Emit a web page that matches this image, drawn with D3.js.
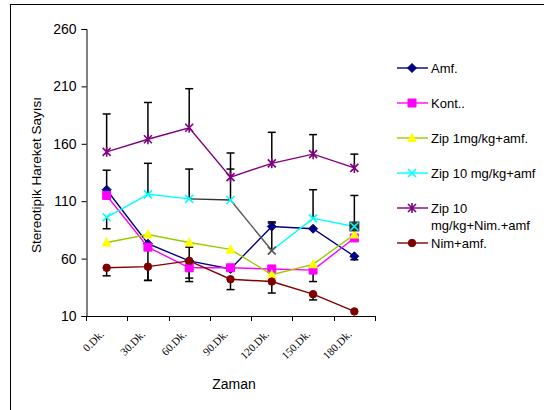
<!DOCTYPE html>
<html>
<head>
<meta charset="utf-8">
<script src="https://cdn.jsdelivr.net/npm/d3@7"></script>
<style>
  body { margin: 0; background: #fff; }
  text { font-family: "Liberation Sans", Arial, sans-serif; }
</style>
</head>
<body>
<div id="plot"></div>
<script>
// categories and tick labels
let cats = ["0.Dk.", "30.Dk.", "60.Dk.", "90.Dk.", "120.Dk.", "150.Dk.", "180.Dk."];
let yTicks = [10, 60, 110, 160, 210, 260];

// series values
let amf    = [120, 73, 58, 51, 88, 86, 62];
let kont   = [115, 70, 52, 52, 51, 50, 78];
let zip1   = [74, 81, 74, 68, 46, 55, 81];
let zip10  = [96, 116, 112, 111, 67, 95, 88];
let zipNim = [153, 164, 174, 131, 143, 151, 139];
let nim    = [52, 53, 58, 42, 40, 29, 14];

// error bars (up / down lengths), 0 = none
let amfUp = [17, 0, 0, 0, 3, 0, 0],     amfDown = [0, 0, 18, 0, 0, 0, 3];
let kontUp = [0, 0, 0, 0, 0, 0, 0],     kontDown = [0, 29, 9, 0, 0, 10, 0];
let zip10Up = [0, 27, 26, 27, 25, 25, 27], zip10Down = [10, 0, 0, 0, 0, 0, 0];
let zipNimUp = [33, 32, 34, 21, 27, 17, 12];
let nimUp = [0, 0, 12, 0, 0, 0, 0],     nimDown = [7, 12, 0, 9, 10, 5, 0];

let series = [
  {name: ["Amf."], values: amf, up: amfUp, down: amfDown, line: "#000080", fill: "#000080", marker: "diamond"},
  {name: ["Kont.."], values: kont, up: kontUp, down: kontDown, line: "#FF00FF", fill: "#FF00FF", marker: "square"},
  {name: ["Zip 1mg/kg+amf."], values: zip1, up: null, down: null, line: "#99CC00", fill: "#FFFF00", marker: "triangle"},
  {name: ["Zip 10 mg/kg+amf"], values: zip10, up: zip10Up, down: zip10Down, line: "#00FFFF", fill: "#00FFFF", marker: "x"},
  {name: ["Zip 10", "mg/kg+Nim.+amf"], values: zipNim, up: zipNimUp, down: null, line: "#800080", fill: "#800080", marker: "star"},
  {name: ["Nim+amf."], values: nim, up: nimUp, down: nimDown, line: "#800000", fill: "#800000", marker: "circle"}
];

let width = 544, height = 410;
let svg = d3.select("#plot").append("svg")
  .attr("width", width).attr("height", height);

// chart border (runs off the picture to the right and bottom)
svg.append("rect")
  .attr("x", 10.5).attr("y", 4.5)
  .attr("width", 560).attr("height", 440)
  .attr("fill", "none").attr("stroke", "#000");

let x = d3.scaleBand().domain(cats).range([86, 375]);
let y = d3.scaleLinear().domain([10, 260]).range([316, 29]);
let cx = d => x(d) + x.bandwidth() / 2;

// Y axis
let yAxis = svg.append("g")
  .attr("transform", "translate(86.5,0)")
  .call(d3.axisLeft(y).tickValues(yTicks).tickSize(5).tickPadding(5));
yAxis.selectAll("text").style("font-size", "14px").attr("fill", "#000")
  .style("font-family", "'Liberation Sans', Arial, sans-serif");
yAxis.select(".domain").attr("stroke", "#000");

// X axis: line + ticks at category borders
let xg = svg.append("g");
xg.append("line")
  .attr("x1", 86).attr("x2", 375).attr("y1", 316.5).attr("y2", 316.5)
  .attr("stroke", "#000");
let bounds = cats.map(c => x(c)).concat([x.range()[1]]);
xg.selectAll(".tk").data(bounds).enter().append("line")
  .attr("x1", d => Math.round(d) + 0.5).attr("x2", d => Math.round(d) + 0.5)
  .attr("y1", 316).attr("y2", 321)
  .attr("stroke", "#000");
xg.selectAll(".lbl").data(cats).enter().append("text")
  .attr("transform", d => "translate(" + (cx(d) - 2) + ",335) rotate(-45)")
  .attr("text-anchor", "end")
  .style("font-family", "'Liberation Serif', 'Times New Roman', serif")
  .style("font-size", "11px")
  .text(d => d);

// axis titles
svg.append("text")
  .attr("transform", "translate(41,175) rotate(-90)")
  .attr("text-anchor", "middle")
  .style("font-size", "13.5px")
  .text("Stereotipik Hareket Sayısı");
svg.append("text")
  .attr("x", 234).attr("y", 389)
  .attr("text-anchor", "middle")
  .style("font-size", "14px")
  .text("Zaman");

// error bars
let eb = svg.append("g").attr("stroke", "#000").attr("stroke-width", 1.5);
function errBar(xc, v, e) {
  let y0 = y(v), y1 = y(v + e);
  eb.append("line").attr("x1", xc).attr("x2", xc).attr("y1", y0).attr("y2", y1);
  eb.append("line").attr("x1", xc - 4).attr("x2", xc + 4).attr("y1", y1).attr("y2", y1);
}
series.forEach(s => {
  s.values.forEach((v, i) => {
    if (s.up && s.up[i]) errBar(cx(cats[i]), v, s.up[i]);
    if (s.down && s.down[i]) errBar(cx(cats[i]), v, -s.down[i]);
  });
});

// marker shapes
function markerPath(type) {
  if (type == "diamond") return "M0,-4.5L4.5,0L0,4.5L-4.5,0Z";
  if (type == "square") return "M-4,-4H4V4H-4Z";
  if (type == "triangle") return "M0,-5.5L5,4L-5,4Z";
  if (type == "x") return "M-4,-4L4,4M-4,4L4,-4";
  if (type == "star") return "M-4,-4L4,4M-4,4L4,-4M0,-5L0,5";
  return d3.symbol(d3.symbolCircle, 44)();
}
function drawMarker(g, type, px, py, fill) {
  let stroked = (type == "x" || type == "star");
  g.append("path")
    .attr("d", markerPath(type))
    .attr("transform", "translate(" + px + "," + py + ")")
    .attr("fill", stroked ? "none" : fill)
    .attr("stroke", fill)
    .attr("stroke-width", stroked ? 1.6 : (type == "triangle" ? 0 : 1));
}

let line = d3.line().x((d, i) => cx(cats[i])).y(d => y(d));

series.forEach((s, k) => {
  let g = svg.append("g");
  if (k == 3) {
    // Zip 10 mg/kg+amf: some segments drawn dark in the source
    let segColor = ["#00FFFF", "#00FFFF", "#333", "#555", "#00FFFF", "#00FFFF"];
    for (let i = 0; i < s.values.length - 1; i++) {
      g.append("line")
        .attr("x1", cx(cats[i])).attr("y1", y(s.values[i]))
        .attr("x2", cx(cats[i + 1])).attr("y2", y(s.values[i + 1]))
        .attr("stroke", segColor[i]).attr("stroke-width", 1.4);
    }
    s.values.forEach((v, i) => {
      if (i == 6) {
        g.append("rect")
          .attr("x", cx(cats[i]) - 5).attr("y", y(v) - 5)
          .attr("width", 10).attr("height", 10)
          .attr("fill", "#333");
      }
      drawMarker(g, "x", cx(cats[i]), y(v), i == 4 ? "#555" : s.fill);
    });
  } else {
    g.append("path")
      .datum(s.values)
      .attr("d", line)
      .attr("fill", "none")
      .attr("stroke", s.line)
      .attr("stroke-width", 1.4);
    s.values.forEach((v, i) => drawMarker(g, s.marker, cx(cats[i]), y(v), s.fill));
  }
});

// legend
let legY = [68, 103, 138, 173, 208, 243];
let lg = svg.append("g");
series.forEach((s, k) => {
  let ly = legY[k];
  lg.append("line")
    .attr("x1", 397).attr("x2", 428).attr("y1", ly).attr("y2", ly)
    .attr("stroke", s.line).attr("stroke-width", 1.4);
  drawMarker(lg, s.marker, 412, ly, s.fill);
  s.name.forEach((t, j) => {
    lg.append("text")
      .attr("x", 431).attr("y", ly + 4.5 + j * 17.5)
      .style("font-size", "13px")
      .text(t);
  });
});
</script>
</body>
</html>
